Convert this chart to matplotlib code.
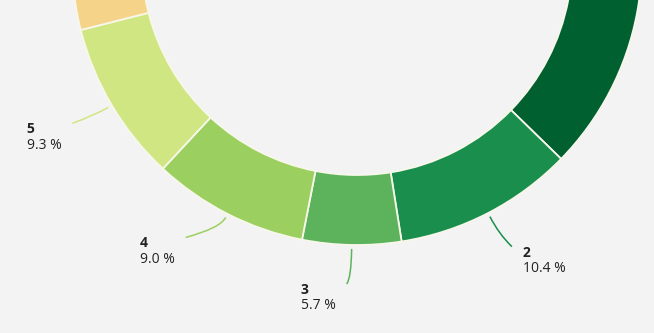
import matplotlib
matplotlib.use("Agg")
import numpy as np
import matplotlib.pyplot as plt
from matplotlib.path import Path
from matplotlib.patches import PathPatch
from matplotlib.offsetbox import TextArea, VPacker, AnnotationBbox

# categories and values in clockwise order from 12 o'clock
# (segments 1, 6, 7, 8 lie mostly outside the cropped view -> estimated)
categories = ["1", "2", "3", "4", "5", "6", "7", "8"]
shares = [38.0, 10.4, 5.7, 9.0, 9.3, 12.5, 10.0, 7.0]
colors = ["#00602f", "#1a8e4c", "#5db35c", "#9bcf5f", "#d0e683",
          "#f5d48a", "#f0a45c", "#de6b4f"]
labelled = ["2", "3", "4", "5"]

BG, INK = "#f3f3f3", "#222222"
FONT = "Open Sans"

# layout (pixel units, y up): donut centre sits above the visible crop
CX, CY, R, W = 357, 373, 285, 70
# leader end offset from its start (dx, dy) and initial radial run length
leader = {"2": (22, -30, 20), "3": (-5, -35, 30),
          "4": (-40, -20, 12), "5": (-36, -16, 15)}

fig = plt.figure(figsize=(6.54, 3.33), dpi=100, facecolor=BG)
ax = fig.add_axes([0, 0, 1, 1])
ax.set_facecolor(BG)

wedges, _ = ax.pie(shares, colors=colors, startangle=90, counterclock=False,
                   radius=R, center=(CX, CY),
                   wedgeprops=dict(width=W, edgecolor="#f7f7ea", linewidth=1.3))

for w, cat, col, val in zip(wedges, categories, colors, shares):
    if cat not in labelled:
        continue
    mid = np.deg2rad((w.theta1 + w.theta2) / 2)
    ux, uy = np.cos(mid), np.sin(mid)
    x0, y0 = CX + (R + 4) * ux, CY + (R + 4) * uy
    dx, dy, run = leader[cat]
    x2, y2 = x0 + dx, y0 + dy
    x1, y1 = x0 + run * ux, y0 + run * uy
    ax.add_patch(PathPatch(Path([(x0, y0), (x1, y1), (x2, y2)],
                                [Path.MOVETO, Path.CURVE3, Path.CURVE3]),
                           fc="none", ec=col, lw=1.1))
    num = TextArea(cat, textprops=dict(fontsize=10, fontweight="bold",
                                       color=INK, family=FONT))
    pct = TextArea(f"{val:.1f} %", textprops=dict(fontsize=10, color=INK,
                                                  family=FONT))
    box = VPacker(children=[num, pct], align="left", pad=0, sep=1)
    right = dx > 0
    ab = AnnotationBbox(box, (x2 + (11 if right else -11), y2 + 1),
                        xycoords="data", box_alignment=(0 if right else 1, 1),
                        frameon=False, pad=0)
    ax.add_artist(ab)

ax.set_xlim(0, 654)
ax.set_ylim(0, 333)
ax.set_axis_off()
fig.savefig("out.png", dpi=100, facecolor=BG)
